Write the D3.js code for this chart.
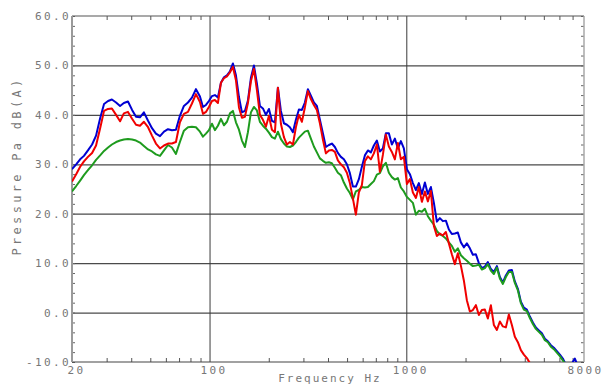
<!DOCTYPE html>
<html><head><meta charset="utf-8">
<script src="https://cdn.jsdelivr.net/npm/d3@7"></script>
<style>
html,body{margin:0;padding:0;background:#fff;}
svg{display:block;}
</style></head><body>
<svg id="c" width="604" height="385"></svg>
<script>
// Frequency grid (Hz)
const freq = [20,21,22,23,24.1,25.3,26.5,27.8,29.1,30.5,31.9,33.5,35.1,36.7,38.5,40.4,42.3,44.3,46.4,48.7,51,53.4,56,58.7,61.5,64.4,67.5,70.7,74.1,77.7,81.4,85.3,89.4,
92.6,95.9,99.3,102.9,106.5,110.3,114.3,118.4,122.6,127,
131.5,136.2,141.1,146.1,151.3,156.7,162.3,168.1,174.1,180.3,
186.8,193.4,200.4,207.5,214.9,222.6,230.5,238.8,247.3,256.1,
265.3,274.7,284.6,294.7,305.2,316.1,327.4,339.1,351.2,363.8,
376.8,390.2,404.2,418.6,433.6,449,465.1,481.7,498.9,516.7,
535.2,554.3,574.1,594.6,615.8,637.8,660.6,684.2,708.7,734,
760.2,787.4,815.5,844.6,874.8,906.1,938.4,971.9,1007,1043,
1080,1119,1158,1200,1243,1287,1333,1381,1430,1481,
1534,1589,1646,1704,1765,1828,1894,1961,2031,2104,
2179,2257,2338,2421,2508,2597,2690,2786,2886,2989,
3096,3206,3321,3440,3562,3690,3822,3958,4099,4246,
4398,4555,4717,4886,5061,5241,5429,5623,5823,6032,
6247,6470,6701,6941,7189,7446];

// Pressure levels dB(A)
const blue = [29.0,30.0,31.0,31.7,32.8,34.0,35.8,39.3,42.2,42.8,43.1,42.5,41.8,42.4,42.7,41.0,39.6,39.5,40.5,38.8,37.3,36.2,35.7,36.6,37.1,36.9,37.0,39.8,41.8,42.5,43.5,45.2,43.7,
41.6,42.0,42.8,43.8,44.0,43.5,46.5,47.6,48.0,48.8,
50.4,48.0,43.6,40.5,40.8,42.9,47.5,50.0,46.3,41.8,
41.3,40.0,41.2,38.8,38.5,45.5,40.8,38.3,38.0,37.5,
36.5,39.0,41.1,41.0,42.5,45.2,43.9,42.5,41.8,39.0,
36.3,33.5,33.9,34.2,33.5,32.3,31.5,31.0,30.0,28.2,
25.5,25.5,27.0,29.5,31.8,32.8,32.4,33.8,34.8,32.6,
33.2,36.3,36.3,34.0,35.2,33.2,34.7,33.2,29.0,28.0,
26.2,24.8,26.2,24.0,26.3,24.0,25.4,22.2,18.4,19.1,
18.5,18.6,16.8,15.9,16.0,16.2,14.2,13.2,14.0,13.0,
11.7,11.8,10.0,9.0,9.3,10.2,8.8,8.2,9.4,7.2,
6.1,7.5,8.5,8.6,6.3,4.8,2.2,1.0,0.6,-0.8,
-2.0,-3.0,-3.6,-4.2,-5.3,-5.8,-6.6,-7.1,-7.8,-8.5,
-9.3,-10.6,null,-10.3,-9.3,-10.8];

const red = [26.5,28.0,29.5,30.6,31.5,32.3,33.8,37.3,40.8,41.2,41.3,40.0,38.7,40.3,40.6,39.2,38.0,37.8,38.6,37.5,35.8,34.2,33.2,33.8,34.2,34.2,34.5,38.5,40.2,40.6,42.3,44.2,42.6,
40.2,40.6,41.6,42.8,43.0,42.4,46.5,47.4,47.8,48.6,
49.7,47.0,41.5,39.4,39.6,42.4,46.8,49.3,45.0,40.0,
39.0,37.6,39.8,37.0,36.5,45.5,38.2,35.5,34.0,34.5,
34.0,37.5,40.0,38.6,41.5,44.8,43.2,42.0,41.0,38.3,
35.0,32.2,32.8,32.9,32.5,30.8,30.0,29.4,28.3,26.2,
23.1,19.8,24.3,25.8,30.6,31.6,31.0,32.2,34.0,28.5,
31.9,36.0,33.6,32.5,31.0,34.3,31.0,31.5,26.0,27.0,
24.3,23.2,25.4,22.4,24.5,22.5,24.6,17.5,15.5,16.0,
15.6,16.3,14.0,11.8,9.8,12.0,9.5,6.5,2.5,0.2,
0.5,1.5,-0.5,0.5,0.6,-1.2,1.5,-2.5,-3.5,-1.8,
-2.8,-3.0,-0.4,-2.5,-4.9,-6.0,-7.6,-8.5,-9.2,-10.2,
null,null,null,null,null,null,null,null,null,null,
null,null,null,null,null,null];

const green = [24.5,25.6,26.7,27.8,28.8,29.8,30.9,31.8,32.7,33.4,34.0,34.5,34.8,35.0,35.1,35.0,34.8,34.4,33.7,33.0,32.6,32.0,31.7,32.8,33.9,33.4,32.1,34.5,36.8,37.5,37.6,37.5,36.6,
35.6,36.2,36.9,38.2,36.9,37.8,39.2,37.9,38.6,40.3,
40.8,38.5,37.0,34.8,33.5,36.5,40.5,41.6,40.9,38.6,
37.8,37.2,36.4,35.5,35.2,36.6,35.1,34.2,33.6,33.5,
33.8,34.5,35.4,36.0,36.6,36.8,35.2,33.6,32.4,31.2,
30.7,30.3,30.4,30.2,29.3,28.3,27.8,26.3,25.1,24.2,
22.9,24.5,24.8,25.4,25.3,25.4,26.0,26.6,27.9,28.2,
29.6,30.3,28.3,27.4,26.9,27.2,25.3,24.5,23.4,22.8,
22.2,19.8,20.6,20.4,21.0,19.5,18.6,17.8,16.5,15.8,
15.5,15.0,14.2,13.5,12.3,13.0,11.6,11.0,10.5,9.9,
9.4,9.5,9.7,8.7,9.0,9.8,8.5,7.8,9.1,6.9,
5.8,7.2,8.2,8.2,6.0,4.5,1.9,0.6,0.3,-1.1,
-2.3,-3.3,-3.9,-4.5,-5.6,-6.0,-6.9,-7.4,-8.1,-8.8,
-9.7,-10.5,null,null,null,null];

const yTicks = [-10,0,10,20,30,40,50,60];
const xTicks = [20,100,1000,8000];
const xMinor = [30,40,50,60,70,80,90,200,300,400,500,600,700,800,900,2000,3000,4000,5000,6000,7000];
const xGrid = [100,1000];
const yTitle = "Pressure Pa dB(A)";
const xTitle = "Frequency Hz";

[blue,red,green].forEach((s,i)=>{ if(s.length!==freq.length) throw new Error("series "+i+" length "+s.length+" vs "+freq.length); });

const svg = d3.select("#c");
const M = {l:72, r:584, t:16, b:362};
const x = d3.scaleLog().domain([20,8000]).range([M.l,M.r]);
const y = d3.scaleLinear().domain([-10,60]).range([M.b,M.t]);
const FONT = '"DejaVu Sans Mono", monospace';

// horizontal gridlines
svg.append("g").attr("transform",`translate(${M.l},0)`)
  .call(d3.axisRight(y).tickValues(yTicks.filter(v=>v>-10&&v<60)).tickSize(M.r-M.l).tickFormat(""))
  .call(g=>g.select(".domain").remove())
  .call(g=>g.selectAll("line").attr("stroke","#4a4a4a").attr("stroke-width",1.2));

// vertical gridlines
svg.append("g").attr("transform",`translate(0,${M.b})`)
  .call(d3.axisTop(x).tickValues(xGrid).tickSize(M.b-M.t).tickFormat(""))
  .call(g=>g.select(".domain").remove())
  .call(g=>g.selectAll("line").attr("stroke","#3a3a3a").attr("stroke-width",1));

// minor ticks (inward)
const yMinor = d3.range(-10,61,2);
svg.append("g").attr("transform",`translate(${M.l},0)`)
  .call(d3.axisRight(y).tickValues(yMinor).tickSize(3).tickFormat(""))
  .call(g=>g.select(".domain").remove())
  .call(g=>g.selectAll("line").attr("stroke","#666"));
svg.append("g").attr("transform",`translate(${M.r},0)`)
  .call(d3.axisLeft(y).tickValues(yMinor).tickSize(3).tickFormat(""))
  .call(g=>g.select(".domain").remove())
  .call(g=>g.selectAll("line").attr("stroke","#666"));
svg.append("g").attr("transform",`translate(0,${M.t})`)
  .call(d3.axisBottom(x).tickValues(xMinor).tickSize(4).tickFormat(""))
  .call(g=>g.select(".domain").remove())
  .call(g=>g.selectAll("line").attr("stroke","#555"));
svg.append("g").attr("transform",`translate(0,${M.b})`)
  .call(d3.axisTop(x).tickValues(xMinor).tickSize(4).tickFormat(""))
  .call(g=>g.select(".domain").remove())
  .call(g=>g.selectAll("line").attr("stroke","#555"));

// frame
const frame = svg.append("g");
frame.append("line").attr("x1",M.l).attr("x2",M.r).attr("y1",M.t).attr("y2",M.t).attr("stroke","#555").attr("stroke-width",1.2);
frame.append("line").attr("x1",M.l).attr("x2",M.r).attr("y1",M.b).attr("y2",M.b).attr("stroke","#444").attr("stroke-width",1.2);
frame.append("line").attr("x1",M.l).attr("x2",M.l).attr("y1",M.t).attr("y2",M.b).attr("stroke","#9a9a9a").attr("stroke-width",2);
frame.append("line").attr("x1",M.r).attr("x2",M.r).attr("y1",M.t).attr("y2",M.b).attr("stroke","#a8a8a8").attr("stroke-width",1.5);

// data lines
svg.append("clipPath").attr("id","clip").append("rect")
  .attr("x",M.l).attr("y",M.t).attr("width",M.r-M.l).attr("height",M.b-M.t);
const line = d3.line().defined(d=>d[1]!=null).x(d=>x(d[0])).y(d=>y(d[1]));
const series = [
  {vals:blue, color:"#0000d2"},
  {vals:green, color:"#1e9b1e"},
  {vals:red, color:"#f00000"}
];
const lg = svg.append("g").attr("clip-path","url(#clip)");
series.forEach(s=>{
  lg.append("path").datum(freq.map((f,i)=>[f,s.vals[i]]))
    .attr("d",line).attr("fill","none").attr("stroke",s.color)
    .attr("stroke-width",2).attr("stroke-linejoin","round");
});

// tick labels
svg.append("g").attr("transform",`translate(${M.l},0)`)
  .call(d3.axisLeft(y).tickValues(yTicks).tickSize(0).tickPadding(1).tickFormat(d=>d.toFixed(1)))
  .call(g=>g.select(".domain").remove())
  .call(g=>g.selectAll("text").attr("fill","#777").style("font-family",FONT).style("font-size","11px").style("letter-spacing","2.4px"));
svg.append("g").attr("transform",`translate(0,${M.b})`)
  .call(d3.axisBottom(x).tickValues(xTicks).tickSize(0).tickPadding(4).tickFormat(d=>String(d)))
  .call(g=>g.select(".domain").remove())
  .call(g=>g.selectAll("text").attr("fill","#777").attr("dx",d=>d===8000?1:4).style("font-family",FONT).style("font-size","11px").style("letter-spacing","2.4px"));

// titles
svg.append("text").attr("x",330).attr("y",382).attr("text-anchor","middle")
  .attr("fill","#777").style("font-family",FONT).style("font-size","11px").style("letter-spacing","2px").text(xTitle);
svg.append("text").attr("transform","translate(21,166) rotate(-90)").attr("text-anchor","middle")
  .attr("fill","#777").style("font-family",FONT).style("font-size","12px").style("letter-spacing","3.3px").text(yTitle);
</script>
</body></html>
